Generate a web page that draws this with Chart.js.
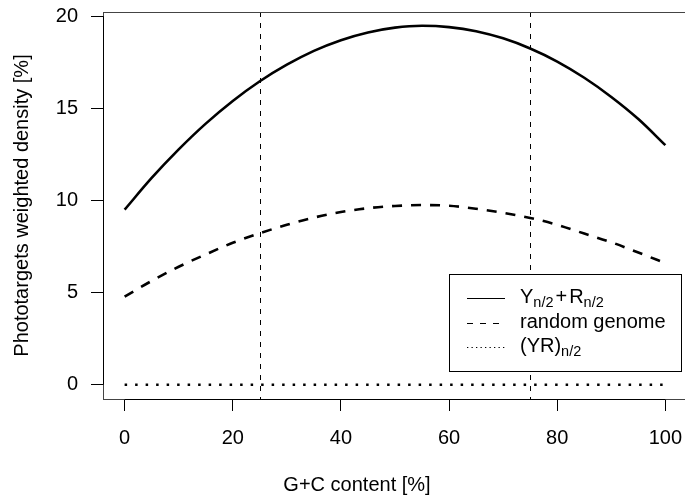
<!DOCTYPE html>
<html>
<head>
<meta charset="utf-8">
<script src="https://cdn.jsdelivr.net/npm/chart.js@4/dist/chart.umd.min.js"></script>
<style>
html,body{margin:0;padding:0;overflow:hidden;background:#fff;width:685px;height:495px}
canvas{display:block}
</style>
</head>
<body>
<canvas id="c" width="690" height="495" style="width:690px;height:495px"></canvas>
<script>
// ---- data ----
const gcContent = [0, 5, 10, 15, 20, 25, 30, 35, 40, 45, 50, 55, 60, 65, 70, 75, 80, 85, 90, 95, 100];
const yPlusR = [9.50, 11.22, 12.77, 14.17, 15.40, 16.47, 17.37, 18.12, 18.70, 19.12, 19.38, 19.48, 19.41, 19.19, 18.80, 18.25, 17.54, 16.66, 15.62, 14.42, 13.00];
const randomGenome = [4.78, 5.63, 6.40, 7.07, 7.70, 8.22, 8.68, 9.07, 9.37, 9.58, 9.70, 9.75, 9.71, 9.55, 9.33, 9.05, 8.68, 8.20, 7.73, 7.17, 6.60];
const yrPairs = [0, 0, 0, 0, 0, 0, 0, 0, 0, 0, 0, 0, 0, 0, 0, 0, 0, 0, 0, 0, 0];
const xTicks = [0, 20, 40, 60, 80, 100];
const yTicks = [0, 5, 10, 15, 20];
const refLines = [25, 75];
const xTitle = 'G+C content [%]';
const yTitle = 'Phototargets weighted density [%]';
const seriesNames = ['Y(n/2)+R(n/2)', 'random genome', '(YR)(n/2)'];
// legend labels: [text, isSubscript]
const legendLabels = [
  [['Y', 0], ['n/2', 1], ['+', 0], ['R', 0], ['n/2', 1]],
  [['random genome', 0]],
  [['(YR)', 0], ['n/2', 1]]
];

const FONT = '"Liberation Sans", Arial, Helvetica, sans-serif';

function pts(vals) { return gcContent.map((g, i) => ({ x: g, y: vals[i] })); }

const decor = {
  id: 'decor',
  beforeDatasetsDraw(chart) {
    const { ctx, chartArea: a, scales: { x } } = chart;
    ctx.save();
    ctx.strokeStyle = '#000';
    ctx.lineWidth = 1;
    ctx.setLineDash([5, 6]);
    refLines.forEach(v => {
      const px = Math.round(x.getPixelForValue(v)) + 0.5;
      ctx.beginPath(); ctx.moveTo(px, a.top); ctx.lineTo(px, a.bottom); ctx.stroke();
    });
    ctx.restore();
  },
  afterDatasetsDraw(chart) {
    const { ctx, chartArea: a, scales: { x, y } } = chart;
    ctx.save();
    // plot box
    ctx.strokeStyle = '#444';
    ctx.lineWidth = 1;
    ctx.strokeRect(Math.round(a.left) + 0.5, Math.round(a.top) + 0.5, a.right - a.left, a.bottom - a.top);
    // axis lines over tick range
    ctx.strokeStyle = '#000';
    ctx.beginPath();
    const by = Math.round(a.bottom) + 0.5;
    ctx.moveTo(x.getPixelForValue(xTicks[0]), by);
    ctx.lineTo(x.getPixelForValue(xTicks[xTicks.length - 1]), by);
    const lx = Math.round(a.left) + 0.5;
    ctx.moveTo(lx, y.getPixelForValue(yTicks[0]));
    ctx.lineTo(lx, y.getPixelForValue(yTicks[yTicks.length - 1]));
    ctx.stroke();

    // legend
    const L = 449.5, T = 274.5, W = 232, H = 97;
    ctx.fillStyle = '#fff';
    ctx.fillRect(L, T, W, H);
    ctx.strokeStyle = '#000';
    ctx.lineWidth = 1;
    ctx.setLineDash([]);
    ctx.strokeRect(L, T, W, H);
    const rows = [298, 323, 347];
    const dashes = [[], [6, 7], [1.3, 3.2]];
    rows.forEach((ry, i) => {
      ctx.save();
      ctx.strokeStyle = '#000';
      ctx.lineWidth = 1.2;
      ctx.setLineDash(dashes[i]);
      ctx.beginPath();
      ctx.moveTo(467, ry + 0.5); ctx.lineTo(505, ry + 0.5);
      ctx.stroke();
      ctx.restore();
      let tx = 520;
      ctx.fillStyle = '#000';
      ctx.textBaseline = 'middle';
      ctx.textAlign = 'left';
      legendLabels[i].forEach(([t, sub]) => {
        if (sub) {
          ctx.font = '14.5px ' + FONT;
          ctx.fillText(t, tx, ry + 5);
        } else {
          ctx.font = '20px ' + FONT;
          if (t === '+') tx += 2;
          ctx.fillText(t, tx, ry - 1);
        }
        tx += ctx.measureText(t).width + (t === '+' ? 2 : 0);
      });
    });
    ctx.restore();
  },
  afterDraw(chart) {
    const { ctx, chartArea: a } = chart;
    ctx.save();
    ctx.fillStyle = '#000';
    ctx.font = '20px ' + FONT;
    ctx.textAlign = 'center';
    ctx.textBaseline = 'middle';
    ctx.fillText(xTitle, 357, 485);
    ctx.translate(22, (a.top + a.bottom) / 2);
    ctx.rotate(-Math.PI / 2);
    ctx.fillText(yTitle, 0, 0);
    ctx.restore();
  }
};

new Chart(document.getElementById('c'), {
  type: 'line',
  data: {
    datasets: [
      { label: seriesNames[0], data: pts(yPlusR), borderColor: '#000', borderWidth: 2.6, pointRadius: 0, cubicInterpolationMode: 'monotone', fill: false },
      { label: seriesNames[1], data: pts(randomGenome), borderColor: '#000', borderWidth: 2.6, borderDash: [10, 9], borderCapStyle: 'butt', pointRadius: 0, cubicInterpolationMode: 'monotone', fill: false },
      { label: seriesNames[2], data: pts(yrPairs), borderColor: '#000', borderWidth: 2.5, borderDash: [2.5, 8], borderCapStyle: 'butt', pointRadius: 0, fill: false }
    ]
  },
  options: {
    responsive: false,
    animation: false,
    devicePixelRatio: 1,
    layout: { padding: { top: 12, right: 3, left: 0, bottom: 0 } },
    plugins: { legend: { display: false }, tooltip: { enabled: false }, title: { display: false } },
    scales: {
      x: {
        type: 'linear', min: -4, max: 104,
        afterBuildTicks: s => { s.ticks = xTicks.map(v => ({ value: v })); },
        afterFit: s => { s.height = 96; s.paddingLeft = 0; s.paddingRight = 0; },
        grid: { display: true, drawOnChartArea: false, drawTicks: true, tickLength: 12, color: '#000', lineWidth: 1 },
        border: { display: false },
        ticks: { color: '#000', font: { family: FONT, size: 20 }, padding: 15, maxRotation: 0, autoSkip: false },
        title: { display: false }
      },
      y: {
        type: 'linear', min: -0.78, max: 20.23,
        afterBuildTicks: s => { s.ticks = yTicks.map(v => ({ value: v })); },
        afterFit: s => { s.width = 103; s.paddingTop = 0; s.paddingBottom = 0; },
        grid: { display: true, drawOnChartArea: false, drawTicks: true, tickLength: 12, color: '#000', lineWidth: 1 },
        border: { display: false },
        ticks: { color: '#000', font: { family: FONT, size: 20 }, padding: 13, autoSkip: false },
        title: { display: false }
      }
    }
  },
  plugins: [decor]
});
</script>
</body>
</html>
